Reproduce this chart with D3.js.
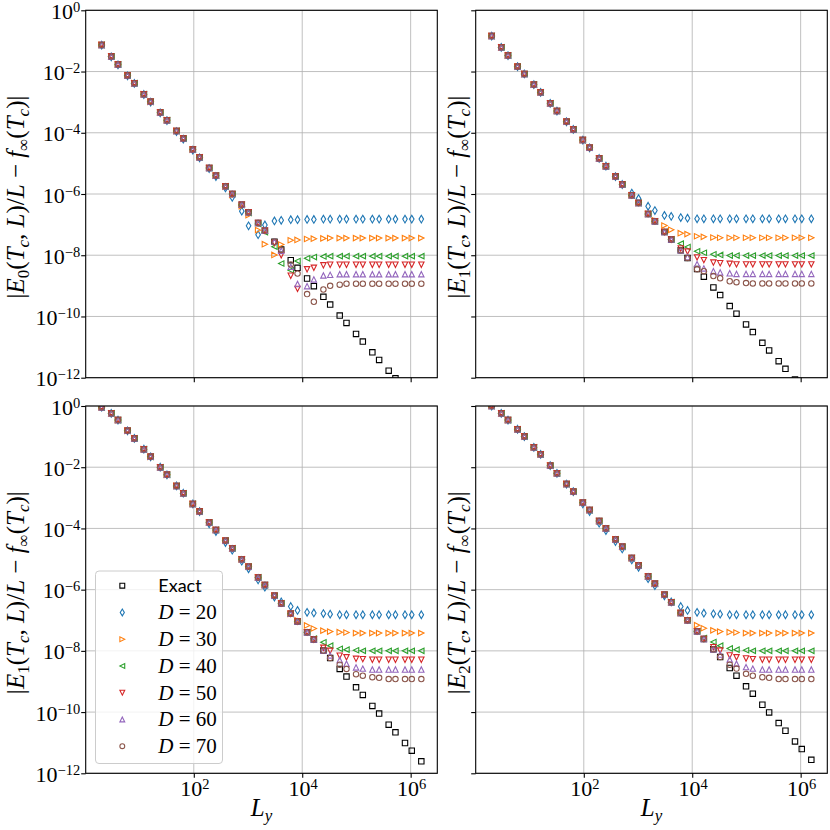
<!DOCTYPE html>
<html><head><meta charset="utf-8">
<script src="https://cdn.jsdelivr.net/npm/d3@7"></script>
<style>body{margin:0;background:#fff}svg{display:block}</style>
</head><body><svg id="c" width="830" height="830"></svg>
<script>
// ---------------- DATA ----------------
const Ly = [2,3,4,6,8,12,16,24,32,48,64,96,128,192,256,384,512,768,1024,1536,2048,3072,4096,6144,8192,12288,16384,24576,32768,49152,65536,98304,131072,196608,262144,393216,524288,786432,1048576,1572864];
const seriesNames = ["Exact","D = 20","D = 30","D = 40","D = 50","D = 60","D = 70"];
const seriesColors = ["#000000","#1f77b4","#ff7f0e","#2ca02c","#d62728","#9467bd","#8c564b"];
const seriesMarkers = ["square","thin_diamond","tri_right","tri_left","tri_down","tri_up","circle"];
const yTickExps = [0,-2,-4,-6,-8,-10,-12];
const xTickExps = [2,4,6];
const panelIndex = ["0","1","1","2"];

// log10 of |E_n/L - f_inf|
const TL_exact = [-1.13,-1.51,-1.77,-2.13,-2.38,-2.74,-2.99,-3.34,-3.59,-3.94,-4.19,-4.55,-4.80,-5.15,-5.40,-5.75,-6.00,-6.35,-6.60,-6.95,-7.20,-7.56,-7.81,-8.16,-8.41,-8.76,-9.01,-9.36,-9.61,-9.97,-10.21,-10.57,-10.82,-11.17,-11.42,-11.77,-12.02,-12.37,-12.62,-12.98];
const TL_D20 = [-1.14,-1.52,-1.78,-2.14,-2.39,-2.75,-3.00,-3.35,-3.60,-3.96,-4.21,-4.57,-4.82,-5.17,-5.43,-5.80,-6.11,-6.56,-7.04,-7.33,-7.01,-6.88,-6.86,-6.84,-6.84,-6.83,-6.83,-6.82,-6.82,-6.82,-6.82,-6.82,-6.82,-6.82,-6.82,-6.82,-6.82,-6.82,-6.82,-6.82];
const TL_D30 = [-1.13,-1.51,-1.77,-2.13,-2.38,-2.74,-2.99,-3.34,-3.59,-3.94,-4.19,-4.55,-4.80,-5.15,-5.40,-5.76,-6.03,-6.40,-6.69,-7.18,-7.64,-7.99,-7.65,-7.51,-7.50,-7.47,-7.46,-7.45,-7.44,-7.44,-7.44,-7.44,-7.44,-7.44,-7.44,-7.44,-7.44,-7.44,-7.44,-7.44];
const TL_D40 = [-1.13,-1.51,-1.77,-2.13,-2.38,-2.74,-2.99,-3.34,-3.59,-3.94,-4.19,-4.55,-4.80,-5.15,-5.40,-5.75,-6.00,-6.36,-6.62,-6.98,-7.25,-7.72,-8.27,-8.49,-8.19,-8.10,-8.06,-8.04,-8.03,-8.03,-8.03,-8.03,-8.03,-8.03,-8.03,-8.03,-8.03,-8.03,-8.03,-8.03];
const TL_D50 = [-1.13,-1.51,-1.77,-2.13,-2.38,-2.74,-2.99,-3.34,-3.59,-3.94,-4.19,-4.55,-4.80,-5.15,-5.40,-5.75,-6.00,-6.35,-6.60,-6.95,-7.20,-7.60,-8.00,-8.67,-9.10,-8.46,-8.41,-8.33,-8.31,-8.31,-8.31,-8.31,-8.31,-8.31,-8.31,-8.31,-8.31,-8.31,-8.31,-8.31];
const TL_D60 = [-1.13,-1.51,-1.77,-2.13,-2.38,-2.74,-2.99,-3.34,-3.59,-3.94,-4.19,-4.55,-4.80,-5.15,-5.40,-5.75,-6.00,-6.35,-6.60,-6.95,-7.20,-7.56,-7.85,-8.38,-8.94,-9.01,-8.79,-8.66,-8.64,-8.62,-8.62,-8.62,-8.62,-8.62,-8.62,-8.62,-8.62,-8.62,-8.62,-8.62];
const TL_D70 = [-1.13,-1.51,-1.77,-2.13,-2.38,-2.74,-2.99,-3.34,-3.59,-3.94,-4.19,-4.55,-4.80,-5.15,-5.40,-5.75,-6.00,-6.35,-6.60,-6.95,-7.20,-7.56,-7.83,-8.30,-8.60,-9.27,-9.52,-9.12,-9.00,-8.96,-8.93,-8.93,-8.93,-8.93,-8.93,-8.93,-8.93,-8.93,-8.93,-8.93];

const TR_exact = [-0.84,-1.21,-1.48,-1.84,-2.08,-2.43,-2.68,-3.04,-3.29,-3.64,-3.89,-4.24,-4.49,-4.84,-5.09,-5.43,-5.69,-6.04,-6.29,-6.65,-6.89,-7.24,-7.49,-7.84,-8.09,-8.45,-8.70,-9.05,-9.30,-9.66,-9.91,-10.26,-10.51,-10.86,-11.11,-11.46,-11.71,-12.06,-12.31,-12.66];
const TR_D20 = [-0.84,-1.21,-1.48,-1.84,-2.08,-2.43,-2.68,-3.04,-3.29,-3.64,-3.89,-4.24,-4.49,-4.84,-5.09,-5.43,-5.69,-5.97,-6.15,-6.40,-6.54,-6.70,-6.73,-6.77,-6.79,-6.81,-6.81,-6.81,-6.81,-6.81,-6.81,-6.81,-6.81,-6.81,-6.81,-6.81,-6.81,-6.81,-6.81,-6.81];
const TR_D30 = [-0.84,-1.21,-1.48,-1.84,-2.08,-2.43,-2.68,-3.04,-3.29,-3.64,-3.89,-4.24,-4.49,-4.84,-5.09,-5.43,-5.69,-6.04,-6.29,-6.65,-6.86,-7.03,-7.17,-7.28,-7.31,-7.38,-7.40,-7.42,-7.43,-7.43,-7.43,-7.43,-7.43,-7.43,-7.43,-7.43,-7.43,-7.43,-7.43,-7.43];
const TR_D40 = [-0.84,-1.21,-1.48,-1.84,-2.08,-2.43,-2.68,-3.04,-3.29,-3.64,-3.89,-4.24,-4.49,-4.84,-5.09,-5.43,-5.69,-6.04,-6.29,-6.65,-6.89,-7.24,-7.48,-7.62,-7.73,-7.87,-7.92,-7.97,-7.99,-8.01,-8.01,-8.01,-8.01,-8.01,-8.01,-8.01,-8.01,-8.01,-8.01,-8.01];
const TR_D50 = [-0.84,-1.21,-1.48,-1.84,-2.08,-2.43,-2.68,-3.04,-3.29,-3.64,-3.89,-4.24,-4.49,-4.84,-5.09,-5.43,-5.69,-6.04,-6.29,-6.65,-6.89,-7.24,-7.49,-7.78,-7.88,-8.07,-8.16,-8.24,-8.26,-8.28,-8.30,-8.30,-8.30,-8.30,-8.30,-8.30,-8.30,-8.30,-8.30,-8.30];
const TR_D60 = [-0.84,-1.21,-1.48,-1.84,-2.08,-2.43,-2.68,-3.04,-3.29,-3.64,-3.89,-4.24,-4.49,-4.84,-5.09,-5.43,-5.69,-6.04,-6.29,-6.65,-6.89,-7.24,-7.49,-7.84,-8.06,-8.29,-8.43,-8.52,-8.56,-8.59,-8.61,-8.61,-8.61,-8.61,-8.61,-8.61,-8.61,-8.61,-8.61,-8.61];
const TR_D70 = [-0.84,-1.21,-1.48,-1.84,-2.08,-2.43,-2.68,-3.04,-3.29,-3.64,-3.89,-4.24,-4.49,-4.84,-5.09,-5.43,-5.69,-6.04,-6.29,-6.65,-6.89,-7.24,-7.49,-7.84,-8.09,-8.46,-8.52,-8.68,-8.75,-8.85,-8.88,-8.91,-8.92,-8.92,-8.92,-8.92,-8.92,-8.92,-8.92,-8.92];

const BL_exact = [-0.04,-0.24,-0.46,-0.81,-1.06,-1.41,-1.66,-2.00,-2.25,-2.61,-2.85,-3.20,-3.45,-3.81,-4.05,-4.40,-4.65,-5.01,-5.25,-5.60,-5.85,-6.20,-6.45,-6.79,-7.04,-7.39,-7.63,-7.99,-8.23,-8.59,-8.84,-9.19,-9.44,-9.80,-10.05,-10.41,-10.66,-11.01,-11.26,-11.61];
const BL_D20 = [-0.04,-0.24,-0.46,-0.81,-1.06,-1.41,-1.66,-2.00,-2.25,-2.61,-2.85,-3.20,-3.45,-3.85,-4.10,-4.46,-4.71,-5.07,-5.32,-5.68,-5.92,-6.24,-6.40,-6.55,-6.68,-6.74,-6.76,-6.78,-6.80,-6.82,-6.82,-6.82,-6.82,-6.82,-6.82,-6.82,-6.82,-6.82,-6.82,-6.82];
const BL_D30 = [-0.04,-0.24,-0.46,-0.81,-1.06,-1.41,-1.66,-2.00,-2.25,-2.61,-2.85,-3.20,-3.45,-3.81,-4.05,-4.40,-4.65,-5.01,-5.25,-5.60,-5.85,-6.20,-6.45,-6.79,-7.00,-7.17,-7.27,-7.34,-7.37,-7.39,-7.40,-7.42,-7.42,-7.42,-7.42,-7.42,-7.42,-7.42,-7.42,-7.42];
const BL_D40 = [-0.04,-0.24,-0.46,-0.81,-1.06,-1.41,-1.66,-2.00,-2.25,-2.61,-2.85,-3.20,-3.45,-3.81,-4.05,-4.40,-4.65,-5.01,-5.25,-5.60,-5.85,-6.20,-6.45,-6.79,-7.04,-7.39,-7.60,-7.72,-7.83,-7.93,-7.96,-7.98,-8.00,-8.00,-8.00,-8.00,-8.00,-8.00,-8.00,-8.00];
const BL_D50 = [-0.04,-0.24,-0.46,-0.81,-1.06,-1.41,-1.66,-2.00,-2.25,-2.61,-2.85,-3.20,-3.45,-3.81,-4.05,-4.40,-4.65,-5.01,-5.25,-5.60,-5.85,-6.20,-6.45,-6.79,-7.04,-7.39,-7.63,-7.90,-8.00,-8.16,-8.21,-8.26,-8.27,-8.29,-8.29,-8.29,-8.29,-8.29,-8.29,-8.29];
const BL_D60 = [-0.04,-0.24,-0.46,-0.81,-1.06,-1.41,-1.66,-2.00,-2.25,-2.61,-2.85,-3.20,-3.45,-3.81,-4.05,-4.40,-4.65,-5.01,-5.25,-5.60,-5.85,-6.20,-6.45,-6.79,-7.04,-7.39,-7.63,-7.99,-8.15,-8.30,-8.42,-8.54,-8.58,-8.61,-8.61,-8.61,-8.61,-8.61,-8.61,-8.61];
const BL_D70 = [-0.04,-0.24,-0.46,-0.81,-1.06,-1.41,-1.66,-2.00,-2.25,-2.61,-2.85,-3.20,-3.45,-3.81,-4.05,-4.40,-4.65,-5.01,-5.25,-5.60,-5.85,-6.20,-6.45,-6.79,-7.04,-7.39,-7.63,-7.99,-8.23,-8.45,-8.59,-8.76,-8.81,-8.86,-8.88,-8.92,-8.92,-8.92,-8.92,-8.92];

const BR_exact = [0.00,-0.24,-0.46,-0.76,-1.00,-1.35,-1.58,-1.95,-2.20,-2.55,-2.80,-3.16,-3.40,-3.76,-4.00,-4.36,-4.60,-4.97,-5.21,-5.57,-5.81,-6.17,-6.41,-6.76,-7.00,-7.36,-7.61,-7.95,-8.20,-8.56,-8.81,-9.16,-9.40,-9.76,-10.01,-10.36,-10.61,-10.96,-11.21,-11.56];
const BR_D20 = [0.00,-0.24,-0.46,-0.76,-1.00,-1.35,-1.58,-1.95,-2.20,-2.55,-2.80,-3.20,-3.45,-3.83,-4.07,-4.43,-4.67,-5.03,-5.27,-5.64,-5.87,-6.20,-6.40,-6.55,-6.68,-6.74,-6.77,-6.79,-6.80,-6.82,-6.82,-6.82,-6.82,-6.82,-6.82,-6.82,-6.82,-6.82,-6.82,-6.82];
const BR_D30 = [0.00,-0.24,-0.46,-0.76,-1.00,-1.35,-1.58,-1.95,-2.20,-2.55,-2.80,-3.16,-3.40,-3.76,-4.00,-4.36,-4.60,-4.97,-5.21,-5.57,-5.81,-6.17,-6.41,-6.76,-7.00,-7.16,-7.26,-7.33,-7.37,-7.39,-7.40,-7.42,-7.42,-7.42,-7.42,-7.42,-7.42,-7.42,-7.42,-7.42];
const BR_D40 = [0.00,-0.24,-0.46,-0.76,-1.00,-1.35,-1.58,-1.95,-2.20,-2.55,-2.80,-3.16,-3.40,-3.76,-4.00,-4.36,-4.60,-4.97,-5.21,-5.57,-5.81,-6.17,-6.41,-6.76,-7.00,-7.36,-7.58,-7.71,-7.83,-7.92,-7.96,-7.98,-8.00,-8.00,-8.00,-8.00,-8.00,-8.00,-8.00,-8.00];
const BR_D50 = [0.00,-0.24,-0.46,-0.76,-1.00,-1.35,-1.58,-1.95,-2.20,-2.55,-2.80,-3.16,-3.40,-3.76,-4.00,-4.36,-4.60,-4.97,-5.21,-5.57,-5.81,-6.17,-6.41,-6.76,-7.00,-7.36,-7.61,-7.88,-7.99,-8.15,-8.21,-8.25,-8.27,-8.29,-8.29,-8.29,-8.29,-8.29,-8.29,-8.29];
const BR_D60 = [0.00,-0.24,-0.46,-0.76,-1.00,-1.35,-1.58,-1.95,-2.20,-2.55,-2.80,-3.16,-3.40,-3.76,-4.00,-4.36,-4.60,-4.97,-5.21,-5.57,-5.81,-6.17,-6.41,-6.76,-7.00,-7.36,-7.61,-7.95,-8.12,-8.28,-8.42,-8.53,-8.58,-8.61,-8.61,-8.61,-8.61,-8.61,-8.61,-8.61];
const BR_D70 = [0.00,-0.24,-0.46,-0.76,-1.00,-1.35,-1.58,-1.95,-2.20,-2.55,-2.80,-3.16,-3.40,-3.76,-4.00,-4.36,-4.60,-4.97,-5.21,-5.57,-5.81,-6.17,-6.41,-6.76,-7.00,-7.36,-7.61,-7.95,-8.20,-8.45,-8.58,-8.75,-8.81,-8.86,-8.88,-8.92,-8.92,-8.92,-8.92,-8.92];

const panelSeries = [
  [TL_exact,TL_D20,TL_D30,TL_D40,TL_D50,TL_D60,TL_D70],
  [TR_exact,TR_D20,TR_D30,TR_D40,TR_D50,TR_D60,TR_D70],
  [BL_exact,BL_D20,BL_D30,BL_D40,BL_D50,BL_D60,BL_D70],
  [BR_exact,BR_D20,BR_D30,BR_D40,BR_D50,BR_D60,BR_D70]
];

// ---------------- LAYOUT ----------------
const cols = [[85.7,437.3],[475.7,827.3]];
const rows = [[10.3,377.7],[406,773.3]];
const MS = 5.4;
const SERIF = "'Liberation Serif','DejaVu Serif',serif";

function markerPath(type, s){
  const h = s/2;
  switch(type){
    case "square": return `M${-h},${-h}H${h}V${h}H${-h}Z`;
    case "thin_diamond": { const w=0.6*0.7071*s, v=0.7071*s; return `M0,${-v}L${w},0L0,${v}L${-w},0Z`; }
    case "tri_up": return `M0,${-h}L${h},${h}L${-h},${h}Z`;
    case "tri_down": return `M0,${h}L${h},${-h}L${-h},${-h}Z`;
    case "tri_right": return `M${h},0L${-h},${h}L${-h},${-h}Z`;
    case "tri_left": return `M${-h},0L${h},${-h}L${h},${h}Z`;
    case "circle": return `M${h},0A${h},${h} 0 1,1 ${-h},0A${h},${h} 0 1,1 ${h},0Z`;
  }
}

const svg = d3.select("#c");
svg.append("rect").attr("width",830).attr("height",830).attr("fill","#fff");
const defs = svg.append("defs");

const lx = Ly.map(Math.log10);
const lmin = d3.min(lx), lmax = d3.max(lx), mg = 0.05*(lmax-lmin);
const xDomain = [Math.pow(10,lmin-mg), Math.pow(10,lmax+mg)];
const yTicks = yTickExps.map(e=>Math.pow(10,e));
const xTicks = xTickExps.map(e=>Math.pow(10,e));

function powText(sel, e){
  sel.append("tspan").text("10");
  sel.append("tspan").attr("font-size",14.5).attr("dy",-7).text(e<0 ? "\u2212"+(-e) : String(e));
}

function yLabel(g, cx, cy, idx){
  const t = g.append("text").attr("transform",`translate(${cx},${cy}) rotate(-90)`)
    .attr("text-anchor","middle").attr("font-family",SERIF).attr("font-size",25).attr("fill","#000");
  const parts = [["|","n"],["E","i"],[idx,"s"],["(","n"],["T","i"],["c","si"],[", ","n"],["L","i"],[")/","n"],["L","i"],[" \u2212 ","n"],["f","i"],["\u221E","s"],["(","n"],["T","i"],["c","si"],[")|","n"]];
  let off = 0;
  parts.forEach(([txt,k])=>{
    const sub = k==="s"||k==="si";
    const target = sub ? 5 : 0;
    const ts = t.append("tspan").text(txt);
    if (target!==off){ ts.attr("dy", target-off); off = target; }
    if (sub) ts.attr("font-size",17);
    if (k==="i"||k==="si") ts.attr("font-style","italic");
  });
}

panelSeries.forEach((series, pi)=>{
  const r = Math.floor(pi/2), c = pi%2;
  const [x0,x1] = cols[c], [y0,y1] = rows[r];
  const x = d3.scaleLog().domain(xDomain).range([x0,x1]);
  const y = d3.scaleLog().domain([1e-12,1]).range([y1,y0]);
  const g = svg.append("g");
  const cid = "clip"+pi;
  defs.append("clipPath").attr("id",cid).append("rect").attr("x",x0).attr("y",y0).attr("width",x1-x0).attr("height",y1-y0);

  // grid
  g.append("g").selectAll("line").data(yTicks).join("line")
    .attr("x1",x0).attr("x2",x1).attr("y1",d=>y(d)).attr("y2",d=>y(d))
    .attr("stroke","#b0b0b0").attr("stroke-width",0.8);
  g.append("g").selectAll("line").data(xTicks).join("line")
    .attr("y1",y0).attr("y2",y1).attr("x1",d=>x(d)).attr("x2",d=>x(d))
    .attr("stroke","#b0b0b0").attr("stroke-width",0.8);

  // markers
  const mg2 = g.append("g").attr("clip-path",`url(#${cid})`);
  series.forEach((vals, si)=>{
    const pts = Ly.map((L,i)=>({L, v: Math.pow(10, vals[i])})).filter(d=>isFinite(d.v));
    mg2.append("g").selectAll("path").data(pts).join("path")
      .attr("d", markerPath(seriesMarkers[si], MS))
      .attr("transform", d=>`translate(${x(d.L)},${y(d.v)})`)
      .attr("fill","none").attr("stroke",seriesColors[si]).attr("stroke-width",1.1);
  });

  // ticks via d3 axes
  const ax = g.append("g").attr("transform",`translate(0,${y1})`)
    .call(d3.axisBottom(x).tickValues(xTicks).tickSize(4.5).tickFormat(""));
  ax.select(".domain").remove();
  ax.selectAll("line").attr("stroke","#000").attr("stroke-width",1.1);
  const ay = g.append("g").attr("transform",`translate(${x0},0)`)
    .call(d3.axisLeft(y).tickValues(yTicks).tickSize(4.5).tickFormat(""));
  ay.select(".domain").remove();
  ay.selectAll("line").attr("stroke","#000").attr("stroke-width",1.1);

  // spines
  g.append("rect").attr("x",x0).attr("y",y0).attr("width",x1-x0).attr("height",y1-y0)
    .attr("fill","none").attr("stroke","#000").attr("stroke-width",1.1);

  // tick labels
  if (c===0){
    yTicks.forEach((t,k)=>{
      const tx = g.append("text").attr("x",x0-5.5).attr("y",y(t)+8.5)
        .attr("text-anchor","end").attr("font-family",SERIF).attr("font-size",22).attr("fill","#000");
      powText(tx, yTickExps[k]);
    });
  }
  if (r===1){
    xTicks.forEach((t,k)=>{
      const tx = g.append("text").attr("x",x(t)+1).attr("y",y1+23)
        .attr("text-anchor","middle").attr("font-family",SERIF).attr("font-size",22).attr("fill","#000");
      powText(tx, xTickExps[k]);
    });
    const xl = g.append("text").attr("x",(x0+x1)/2).attr("y",816)
      .attr("text-anchor","middle").attr("font-family",SERIF).attr("font-size",25).attr("fill","#000");
    xl.append("tspan").attr("font-style","italic").text("L");
    xl.append("tspan").attr("font-style","italic").attr("font-size",17).attr("dy",5).text("y");
  }
  yLabel(g, c===0 ? 24 : 465, (y0+y1)/2 + 3, panelIndex[pi]);

  // legend in bottom-left panel
  if (pi===2){
    const lg = svg.append("g");
    lg.append("rect").attr("x",95.5).attr("y",571).attr("width",127).attr("height",192.5).attr("rx",3.5)
      .attr("fill","#fff").attr("fill-opacity",0.8).attr("stroke","#cccccc").attr("stroke-width",1);
    seriesNames.forEach((nm,si)=>{
      const yy = 585.7 + si*26.75;
      lg.append("path").attr("d",markerPath(seriesMarkers[si], MS*0.9))
        .attr("transform",`translate(122.3,${yy})`).attr("fill","none")
        .attr("stroke",seriesColors[si]).attr("stroke-width",1.1);
      if (si===0){
        lg.append("text").attr("x",158.3).attr("y",yy+6.5).attr("font-family","Lato,'Open Sans',sans-serif")
          .attr("font-size",18).attr("fill","#000").text(nm);
      } else {
        const tt = lg.append("text").attr("x",158.3).attr("y",yy+7).attr("font-family",SERIF)
          .attr("font-size",21).attr("fill","#000");
        const [a,b] = nm.split(" = ");
        tt.append("tspan").attr("font-style","italic").text(a);
        tt.append("tspan").text(" = "+b);
      }
    });
  }
});
</script></body></html>
